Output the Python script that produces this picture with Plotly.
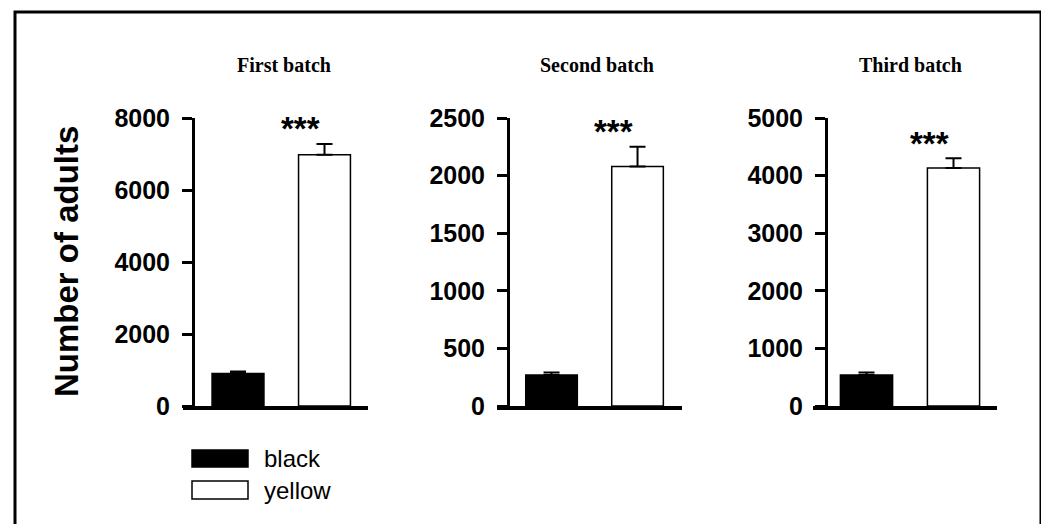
import plotly.graph_objects as go

# ---- data ----
batches = ["First batch", "Second batch", "Third batch"]
groups = ["black", "yellow"]
black_means = [900, 270, 540]
black_err = [55, 20, 40]
yellow_means = [6980, 2080, 4130]
yellow_err = [300, 170, 170]
y_max = [8000, 2500, 5000]
y_dtick = [2000, 500, 1000]
sig_labels = ["***", "***", "***"]

W, H = 1049, 524
OFF = 8  # page body margin
def px(x):
    return (x - OFF) / W
def py(y):
    return 1 - (y - OFF) / H

# layout geometry (pixels, screenshot coordinates)
x_dom = [(183, 368), (497, 682), (813, 997)]
y_axis_pos = [193, 508, 826]
x_ranges = [(-0.636, 1.503), (-0.634, 1.517), (-0.615, 1.5)]
y_bottom, y_top = 406, 118
title_x = [284, 597, 910]
title_y = 65
star_dx = 0.72

FONT = "Liberation Sans, Arial, sans-serif"
SERIF = "Liberation Serif, Times New Roman, serif"

fig = go.Figure()
annotations = []
shapes = []

for i in range(3):
    xa = "x" if i == 0 else f"x{i+1}"
    ya = "y" if i == 0 else f"y{i+1}"
    fig.add_trace(go.Bar(
        x=[0], y=[black_means[i]], width=0.6, xaxis=xa, yaxis=ya,
        marker=dict(color="black", line=dict(color="black", width=1.5)),
        error_y=dict(type="data", array=[black_err[i]], arrayminus=[0], symmetric=False,
                     color="black", thickness=2, width=8),
        name=groups[0], showlegend=False))
    fig.add_trace(go.Bar(
        x=[1], y=[yellow_means[i]], width=0.6, xaxis=xa, yaxis=ya,
        marker=dict(color="white", line=dict(color="black", width=1.5)),
        error_y=dict(type="data", array=[yellow_err[i]], arrayminus=[0], symmetric=False,
                     color="black", thickness=2, width=8),
        name=groups[1], showlegend=False))

    xkey = "xaxis" if i == 0 else f"xaxis{i+1}"
    ykey = "yaxis" if i == 0 else f"yaxis{i+1}"
    fig.update_layout(**{
        xkey: dict(domain=[px(x_dom[i][0]), px(x_dom[i][1])], range=list(x_ranges[i]),
                   showline=True, linecolor="black", linewidth=3.5, showticklabels=False,
                   ticks="", showgrid=False, zeroline=False, anchor=ya, fixedrange=True,
                   automargin=False),
        ykey: dict(domain=[py(y_bottom), py(y_top)], range=[0, y_max[i]], dtick=y_dtick[i],
                   tick0=0, anchor="free", position=px(y_axis_pos[i]),
                   showline=True, linecolor="black", linewidth=3, ticks="outside",
                   ticklen=10, tickwidth=3, tickcolor="black", showgrid=False,
                   zeroline=False, automargin=False,
                   tickfont=dict(family=FONT, size=25, color="black", weight="bold"),
                   ticklabelstandoff=7),
    })

    annotations.append(dict(text=batches[i], x=px(title_x[i]), y=py(title_y), xref="paper",
                            yref="paper", showarrow=False, xanchor="center", yanchor="middle",
                            font=dict(family=SERIF, size=20, color="black", weight="bold")))
    annotations.append(dict(text=sig_labels[i], x=star_dx, y=yellow_means[i] + yellow_err[i],
                            xref=xa, yref=ya, showarrow=False, xanchor="center",
                            yanchor="middle", yshift=15,
                            font=dict(family=FONT, size=33, color="black", weight="bold")))

# y-axis title
annotations.append(dict(text="Number of adults", x=px(66), y=py(262), xref="paper", yref="paper",
                        textangle=-90, showarrow=False, xanchor="center", yanchor="middle",
                        font=dict(family=FONT, size=33, color="black", weight="bold")))

# legend drawn manually
leg_rows = [(450, 467), (481, 499)]
leg_fill = ["black", "white"]
for (y0, y1), fill, label in zip(leg_rows, leg_fill, groups):
    shapes.append(dict(type="rect", xref="paper", yref="paper", x0=px(192), x1=px(248),
                       y0=py(y1), y1=py(y0), fillcolor=fill,
                       line=dict(color="black", width=1.5)))
    annotations.append(dict(text=label, x=px(262), y=py((y0 + y1) / 2), xref="paper",
                            yref="paper", showarrow=False, xanchor="left", yanchor="middle",
                            font=dict(family=FONT, size=24, color="black")))

# outer frame
shapes.append(dict(type="rect", xref="paper", yref="paper", x0=px(15), x1=px(1041),
                   y0=py(540), y1=py(12), line=dict(color="black", width=3),
                   fillcolor="rgba(0,0,0,0)"))

fig.update_layout(width=W, height=H, margin=dict(l=0, r=0, t=0, b=0, autoexpand=False),
                  paper_bgcolor="white", plot_bgcolor="white", showlegend=False,
                  annotations=annotations, shapes=shapes, barmode="overlay")

fig.write_html("out.html")
